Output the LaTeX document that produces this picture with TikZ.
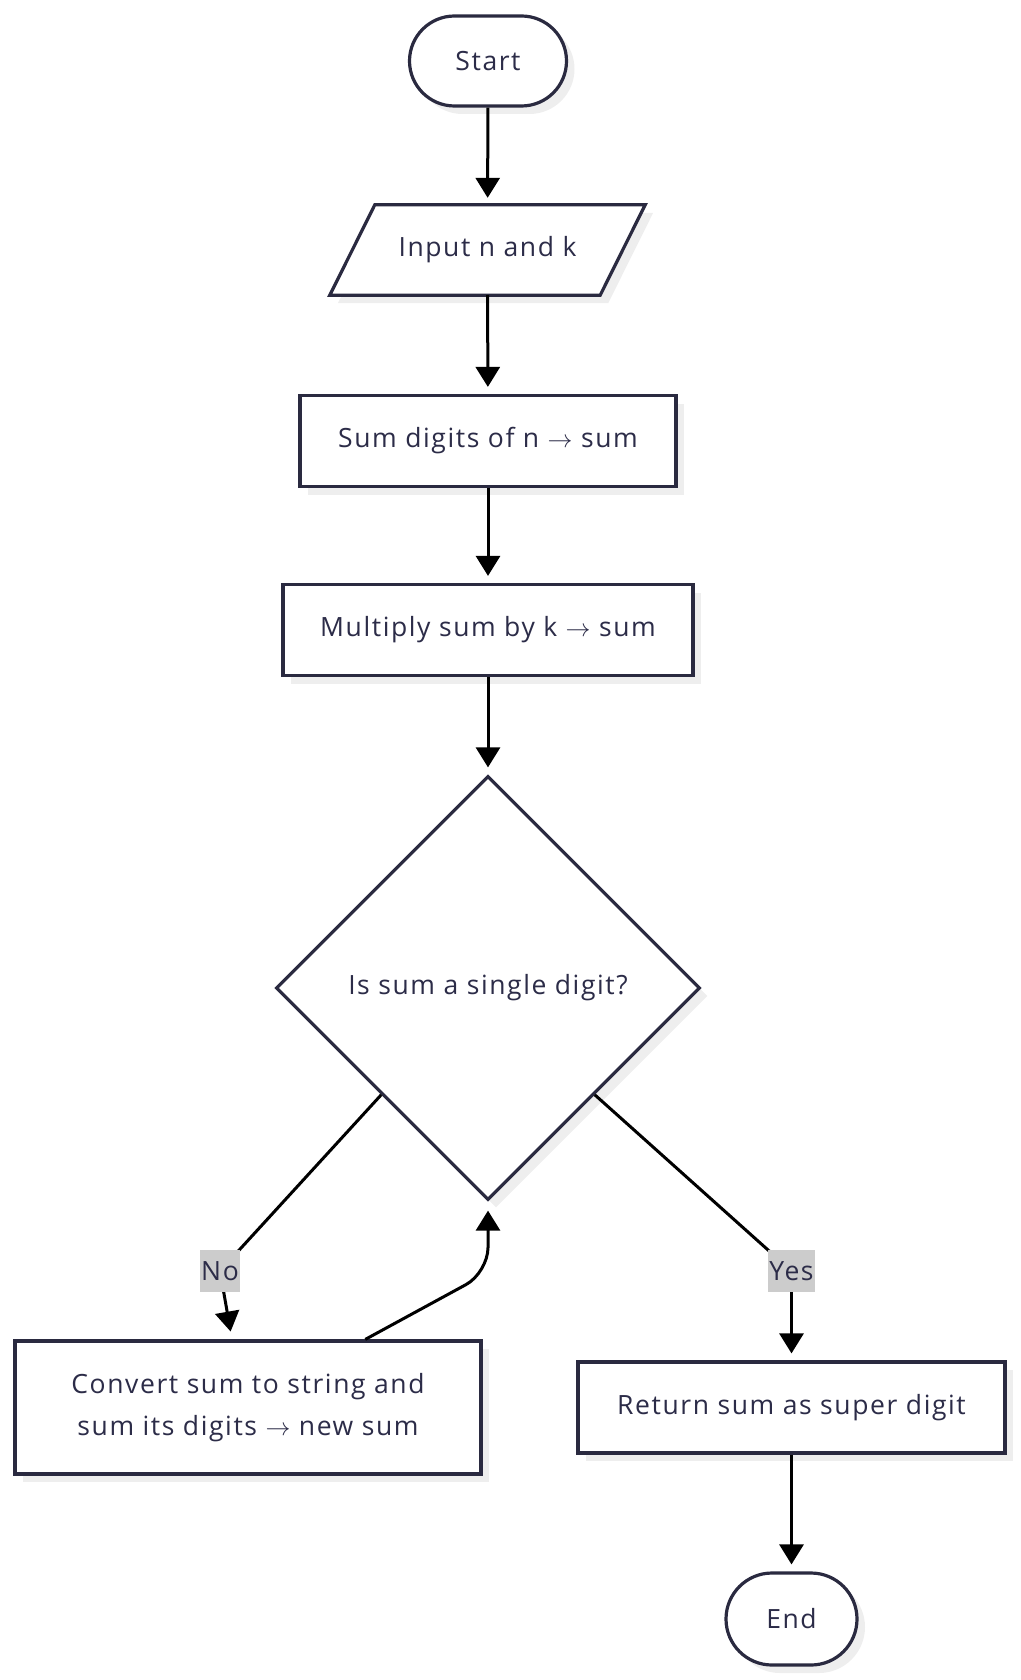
\documentclass[tikz,border=0pt]{standalone}
\usepackage{fontspec}
\setmainfont[LetterSpace=6]{Open Sans}
\usetikzlibrary{arrows.meta,shapes.geometric,shadows,calc,backgrounds}
\definecolor{bd}{HTML}{2A2A40}
\definecolor{tx}{HTML}{2C2C48}
\definecolor{sh}{HTML}{EEEEEE}
\definecolor{lb}{HTML}{CCCCCC}
\newcommand{\arrw}{ $\rightarrow$ }
\begin{document}
\begin{tikzpicture}[x=1pt,y=-1pt,
  every node/.style={font=\fontsize{26.5}{41.5}\selectfont, text=tx},
  box/.style={draw=bd, line width=3.2pt, fill=white,
    drop shadow={shadow xshift=8pt, shadow yshift=-8pt, fill=sh, opacity=1}, inner sep=0pt},
  proc/.style={box, rectangle, align=center},
  term/.style={box, rectangle, rounded corners=45pt},
  dec/.style={box, diamond, aspect=1, minimum size=424pt},
  lbl/.style={fill=lb, inner xsep=1.5pt, inner ysep=0pt, minimum height=42pt, text=tx},
  conn/.style={line width=3pt, draw=black},
  arr/.style={conn, -{Triangle[length=20pt,width=24pt]}, shorten >=7pt},
]
\useasboundingbox (0,0) rectangle (1020,1680);

\node[term, minimum width=157pt, minimum height=90pt] (start) at (488,61) {Start};
\node[inner sep=0pt, minimum width=225pt, minimum height=90pt] (input) at (487.5,250) {Input n and k};
\begin{scope}[on background layer]
  \fill[sh] ($(input.north west)+(8,8)$) -- ($(input.north east)+(53,8)$) -- ($(input.south east)+(8,8)$) -- ($(input.south west)+(-37,8)$) -- cycle;
  \draw[draw=bd, line width=3.2pt, fill=white, line join=miter] (input.north west) -- ($(input.north east)+(45,0)$) -- (input.south east) -- ($(input.south west)+(-45,0)$) -- cycle;
\end{scope}
\node[proc, minimum width=376pt, minimum height=91pt] (sum) at (488,441) {Sum digits of n\arrw sum};
\node[proc, minimum width=410pt, minimum height=91pt] (mult) at (488,630) {Multiply sum by k\arrw sum};
\node[dec] (dia) at (488,988) {Is sum a single digit?};
\node[proc, minimum width=466pt, minimum height=133pt] (cvt) at (248,1407.5) {Convert sum to string and\\sum its digits\arrw new sum};
\node[proc, minimum width=427pt, minimum height=91pt] (ret) at (791.5,1407.5) {Return sum as super digit};
\node[term, minimum width=131pt, minimum height=92pt, rounded corners=46pt] (stop) at (791.5,1619) {End};

\coordinate (nolab) at (220,1271);
\coordinate (yeslab) at (791.5,1271);

\draw[arr] (start) -- (input);
\draw[arr] (input) -- (sum);
\draw[arr] (sum) -- (mult);
\draw[arr] (mult) -- (dia);
\draw[conn] (dia.south west) -- (nolab);
\draw[arr, shorten >=8pt] (nolab) -- ($(cvt.north)+(-16,0)$);
\draw[conn] (dia.south east) -- (yeslab);
\draw[arr] (yeslab) -- (ret);
\draw[arr, rounded corners=25pt, shorten >=9pt] ($(cvt.north)!0.5!(cvt.north east)$) -- ($(dia.south)+(0,71)$) -- (dia.south);
\draw[arr] (ret) -- (stop);

\node[lbl] (no) at (nolab) {No};
\node[lbl] (yes) at (yeslab) {Yes};
\end{tikzpicture}
\end{document}
